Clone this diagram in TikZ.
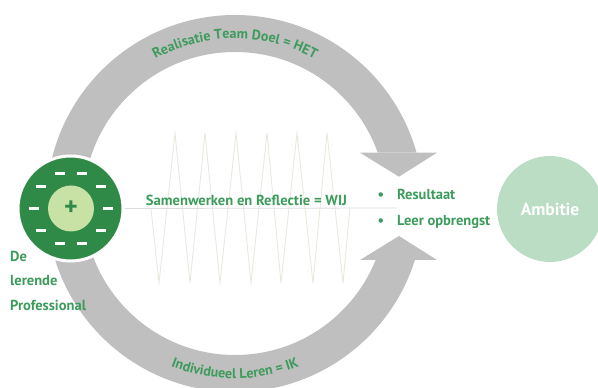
\documentclass[tikz,border=0pt]{standalone}
\usepackage{fontspec}
\setmainfont{PT Sans}
\usetikzlibrary{decorations.text}
\definecolor{band}{HTML}{BFBFBF}
\definecolor{dkgreen}{HTML}{2F8A48}
\definecolor{ltgreen}{HTML}{C8E2A6}
\definecolor{txtgreen}{HTML}{3D9B5C}
\definecolor{ambgreen}{HTML}{BBDDC4}
\definecolor{zig}{HTML}{E9E9E0}
\definecolor{shadowline}{HTML}{DDDDDD}
\begin{document}
\begin{tikzpicture}[x=1pt,y=1pt,
  lbl/.style={text=txtgreen, font=\fontsize{14.5}{16}\selectfont\bfseries, inner sep=0pt},
  bandline/.style={draw=band, line width=37pt},
  arrowhead/.style={fill=band},
  dashbar/.style={fill=white}]
\useasboundingbox (0,0) rectangle (598,388);
\coordinate (C) at (235,184.5);
% top band
\begin{scope}
  \clip (0,0) -- (300,0) -- (300,235.3) -- (598,235.3) -- (598,388) -- (0,388) -- cycle;
  \draw[bandline] ([shift={(180:170pt)}]C) arc[start angle=180, end angle=0, radius=170pt];
\end{scope}
\fill[arrowhead] (360,235.3) -- (437,235.3) -- (399,211.3) -- cycle;
% bottom band
\begin{scope}
  \clip (0,0) -- (598,0) -- (598,128) -- (300,128) -- (300,388) -- (0,388) -- cycle;
  \draw[bandline] ([shift={(180:170pt)}]C) arc[start angle=180, end angle=360, radius=170pt];
\end{scope}
\fill[arrowhead] (360,128) -- (437,128) -- (399,152) -- cycle;
% arc texts
\path[decorate, decoration={text along path, text align=center,
  text={|\fontsize{14}{16}\selectfont\bfseries\color{txtgreen}|Realisatie Team Doel = HET}}]
  ([shift={(150:165pt)}]C) arc[start angle=150, end angle=30, radius=165pt];
\path[decorate, decoration={text along path, text align=center,
  text={|\fontsize{14}{16}\selectfont\bfseries\color{txtgreen}|Individueel Leren = IK}}]
  ([shift={(225:175pt)}]C) arc[start angle=225, end angle=315, radius=175pt];
% zigzag
\draw[zig, line width=0.9pt, line join=miter]
  (151,179) -- (159,105) -- (175,255) -- (190,105) -- (205,255) -- (220,105) -- (236,255)
  -- (251,105) -- (267,255) -- (281,105) -- (297,255) -- (313,105) -- (327,255) -- (343,105) -- (350,180);
% professional circle
\node[circle, fill=dkgreen, draw=white, line width=3pt, minimum size=105pt, inner sep=0pt] (prof) at (70.5,179.5) {};
\draw[shadowline, line width=0.8pt] (prof.east) -- (397,180);
\node[circle, fill=ltgreen, minimum size=46pt, inner sep=0pt] (core) at (71,179.5) {};
\node[text=dkgreen, inner sep=0pt, font=\fontsize{26}{26}\selectfont\bfseries] (plus) at (core.center) {+};
\foreach \a in {0,36,...,324}
  \fill[dashbar] ([shift={(\a:37pt)}]core.center) +(-5pt,-1.5pt) rectangle +(5pt,1.5pt);
% ambitie
\node[circle, fill=ambgreen, minimum size=106pt, inner sep=0pt, text=white,
  font=\fontsize{17.5}{18}\selectfont\bfseries] (amb) at (550,179) {Ambitie};
% center text
\node[lbl, font=\fontsize{14.6}{16}\selectfont\bfseries, anchor=base] (wij) at (246.5,182) {Samenwerken en Reflectie = WIJ};
% bullets
\node[lbl, anchor=base] (b1) at (381,188) {•};
\node[lbl, anchor=base west] (res) at (397,188) {Resultaat};
\node[lbl, anchor=base] (b2) at (381,162.3) {•};
\node[lbl, anchor=base west] (leer) at (397,162.3) {Leer opbrengst};
% left labels
\node[lbl, anchor=base west] (de) at (10,126.3) {De};
\node[lbl, anchor=base west] (lerende) at (10,102) {lerende};
\node[lbl, anchor=base west] (profl) at (10,77) {Professional};
\end{tikzpicture}
\end{document}
